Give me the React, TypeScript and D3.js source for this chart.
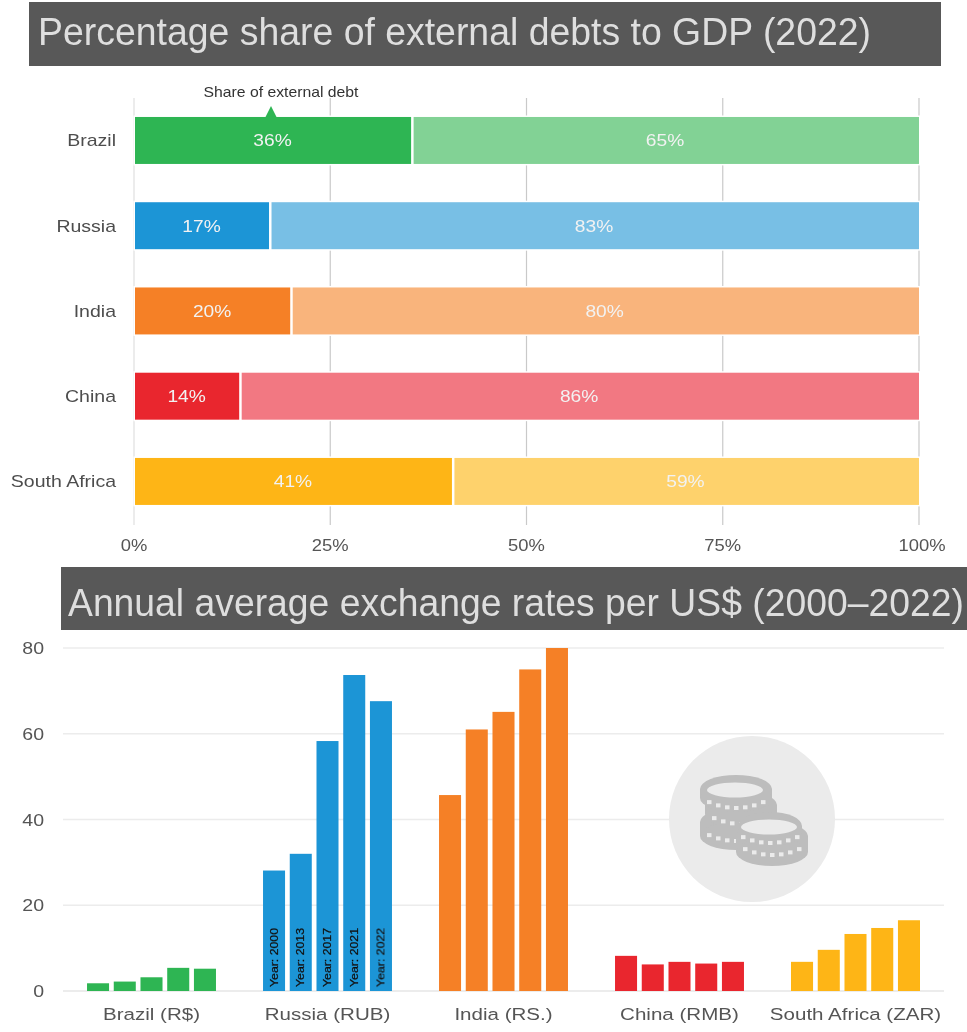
import React from "react";
import * as d3 from "d3";

const countries = ["Brazil", "Russia", "India", "China", "South Africa"];
const debtShare = [35.3, 17.2, 19.9, 13.4, 40.5];
const debtLabels = ["36%", "17%", "20%", "14%", "41%"];
const restLabels = ["65%", "83%", "80%", "86%", "59%"];
const darkColors = ["#2eb553", "#1f95d6", "#f58025", "#e9282f", "#feb512"];
const lightColors = ["#82d295", "#78bfe5", "#f9b47c", "#f27882", "#fed26c"];
const shareTicks = [0, 25, 50, 75, 100];

const currencies = ["Brazil (R$)", "Russia (RUB)", "India (RS.)", "China (RMB)", "South Africa (ZAR)"];
const years = ["2000", "2013", "2017", "2021", "2022"];
const brazilRates = [1.8, 2.2, 3.2, 5.4, 5.2];
const russiaRates = [28.1, 32.0, 58.3, 73.7, 67.6];
const indiaRates = [45.7, 61.0, 65.1, 75.0, 80.0];
const chinaRates = [8.2, 6.2, 6.8, 6.4, 6.8];
const southAfricaRates = [6.8, 9.6, 13.3, 14.7, 16.5];
const allRates = [brazilRates, russiaRates, indiaRates, chinaRates, southAfricaRates];
const rateTicks = [0, 20, 40, 60, 80];

const FONT = "'Liberation Sans', Arial, sans-serif";

const x = d3.scaleLinear().domain([0, 100]).range([134, 919]);
const yCountry = d3.scaleBand().domain(countries).range([91.4, 530.5]).paddingInner(0.449).paddingOuter(0.3);

const y = d3.scaleLinear().domain([0, 80]).range([991, 648]);
const xGroup = d3.scaleBand().domain(currencies).range([63.5, 943.5]);
const xYear = d3.scaleBand().domain(years).range([0, xGroup.bandwidth()]).paddingInner(0.176).paddingOuter(0.88);

type StretchProps = {
  x: number;
  y: number;
  sx: number;
  size: number;
  fill: string;
  anchor: "start" | "middle" | "end";
  children: React.ReactNode;
};

function Stretch({ x: px, y: py, sx, size, fill, anchor, children }: StretchProps) {
  return (
    <text transform={`translate(${px},${py}) scale(${sx},1)`} fontSize={size} fill={fill} textAnchor={anchor}>
      {children}
    </text>
  );
}

type CoinProps = { cx: number; cy: number; rx: number; thick: number; dotY: number; face?: boolean };

function Coin({ cx, cy, rx, thick, dotY, face }: CoinProps) {
  const dots = d3.range(-3, 4);
  return (
    <g>
      <ellipse cx={cx} cy={cy} rx={rx} ry={14} fill="#bdbdbd" />
      <rect x={cx - rx} y={cy} width={rx * 2} height={thick} fill="#bdbdbd" />
      <ellipse cx={cx} cy={cy + thick} rx={rx} ry={14} fill="#bdbdbd" />
      {dots.map((d) => (
        <rect
          key={d}
          x={cx + d * 9 - 2}
          y={cy + dotY - d * d * 0.65 - 2}
          width={4.5}
          height={4}
          fill="#ebebeb"
        />
      ))}
      {face && <ellipse cx={cx - 1} cy={cy + 1} rx={28} ry={7.5} fill="#ebebeb" />}
    </g>
  );
}

export default function App() {
  return (
    <svg
      width={967}
      height={1032}
      style={{ position: "absolute", left: 0, top: 0, background: "#fff", fontFamily: FONT }}
    >
      <defs>
        <filter id="soft" x="-2%" y="-2%" width="104%" height="104%">
          <feGaussianBlur stdDeviation="0.5" />
        </filter>
      </defs>
      <g filter="url(#soft)">
        {/* top panel */}
        <rect x={29} y={2} width={912} height={64} fill="#585858" />
        <text x={38} y={45} fontSize={39} fill="#dedede" textLength={833} lengthAdjust="spacingAndGlyphs">
          Percentage share of external debts to GDP (2022)
        </text>

        <line x1={134} x2={134} y1={98} y2={525} stroke="#e6e6e6" strokeWidth={1.5} />
        {shareTicks.slice(1).map((t) => (
          <line key={t} x1={x(t)} x2={x(t)} y1={98} y2={525} stroke="#c9c9c9" strokeWidth={1.2} />
        ))}
        {shareTicks.map((t) => (
          <Stretch key={t} x={x(t) + (t === 100 ? 3 : 0)} y={551} sx={1.15} size={16} fill="#555" anchor="middle">
            {t}%
          </Stretch>
        ))}

        {countries.map((c, i) => {
          const top = yCountry(c)!;
          const h = yCountry.bandwidth();
          const mid = top + h / 2;
          return (
            <g key={c}>
              <rect
                x={x(0) + 1}
                y={top}
                width={x(debtShare[i]) - x(0) - 1}
                height={h}
                fill={darkColors[i]}
                stroke="#fff"
                strokeWidth={3}
                paintOrder="stroke"
              />
              <rect
                x={x(debtShare[i]) + 2.5}
                y={top}
                width={x(100) - x(debtShare[i]) - 2.5}
                height={h}
                fill={lightColors[i]}
                stroke="#fff"
                strokeWidth={3}
                paintOrder="stroke"
              />
              <Stretch x={116} y={mid + 6} sx={1.22} size={16} fill="#4d4d4d" anchor="end">
                {c}
              </Stretch>
              <Stretch x={(x(0) + x(debtShare[i])) / 2} y={mid + 6} sx={1.2} size={16} fill="#f2f2f2" anchor="middle">
                {debtLabels[i]}
              </Stretch>
              <Stretch
                x={(x(debtShare[i]) + x(100)) / 2}
                y={mid + 6}
                sx={1.2}
                size={16}
                fill="#f2f2f2"
                anchor="middle"
              >
                {restLabels[i]}
              </Stretch>
            </g>
          );
        })}

        <path d="M265,118 L271,106 L277,118 Z" fill={darkColors[0]} />
        <text x={281} y={97} fontSize={15} fill="#333" textAnchor="middle" textLength={155} lengthAdjust="spacingAndGlyphs">
          Share of external debt
        </text>

        {/* bottom panel */}
        <rect x={61} y={567} width={906} height={63} fill="#585858" />
        <text transform="translate(68,616) scale(1.014,1.06)" fontSize={36.8} fill="#dedede">
          Annual average exchange rates per US$ (2000–2022)
        </text>

        {rateTicks.map((t) => (
          <g key={t}>
            <line x1={63} x2={944} y1={y(t)} y2={y(t)} stroke="#ececec" strokeWidth={t === 0 ? 2 : 1.5} />
            <Stretch x={44} y={y(t) + 6} sx={1.15} size={17} fill="#555" anchor="end">
              {t}
            </Stretch>
          </g>
        ))}

        <circle cx={752} cy={819} r={83} fill="#ebebeb" />
        <Coin cx={736} cy={822} rx={36} thick={14} dotY={19} />
        <Coin cx={741} cy={805} rx={36} thick={9} dotY={19} />
        <Coin cx={736} cy={789} rx={36} thick={9} dotY={19} face={true} />
        <Coin cx={772} cy={836} rx={36} thick={16} dotY={19} />
        <Coin cx={770} cy={826} rx={32} thick={6} dotY={17} face={true} />

        {currencies.map((c, gi) => {
          const gx = xGroup(c)!;
          return (
            <g key={c}>
              {years.map((yr, i) => {
                const bx = gx + xYear(yr)!;
                const v = allRates[gi][i];
                return (
                  <g key={yr}>
                    <rect x={bx} y={y(v)} width={xYear.bandwidth()} height={y(0) - y(v)} fill={darkColors[gi]} />
                    {gi === 1 && (
                      <text
                        transform={`translate(${bx + xYear.bandwidth() / 2 + 3.5},987) rotate(-90) scale(1.12,1)`}
                        fontSize={11}
                        fill="#111"
                        stroke="#111"
                        strokeWidth={0.25}
                      >
                        Year: {yr}
                      </text>
                    )}
                  </g>
                );
              })}
              <Stretch x={gx + xGroup.bandwidth() / 2} y={1020} sx={1.21} size={17} fill="#555" anchor="middle">
                {c}
              </Stretch>
            </g>
          );
        })}
      </g>
    </svg>
  );
}
